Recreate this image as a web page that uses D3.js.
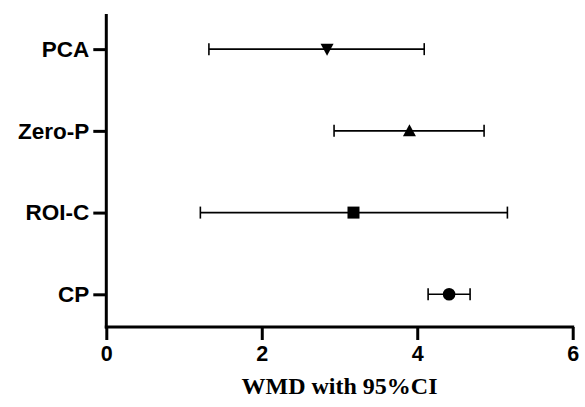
<!DOCTYPE html>
<html><head><meta charset="utf-8">
<script src="https://cdn.jsdelivr.net/npm/d3@7"></script>
<style>body{margin:0;background:#fff}</style>
</head><body>
<script>
const categories = ["CP", "ROI-C", "Zero-P", "PCA"];
const estimates = [4.41, 3.18, 3.90, 2.84];
const lowerCI = [4.14, 1.21, 2.93, 1.32];
const upperCI = [4.68, 5.16, 4.86, 4.09];
const symbols = ["circle", "square", "triangle", "triangleDown"];
const xTicks = [0, 2, 4, 6];
const xTitle = "WMD with 95%CI";

const W = 585, H = 407;
const svg = d3.select("body").append("svg").attr("width", W).attr("height", H);
const x = d3.scaleLinear().domain([0, 6]).range([106.3, 572.7]);
const y = d3.scaleLinear().domain([0.6, 4.43]).range([327, 14]);
const yPos = i => y(i + 1);

const sans = "'Liberation Sans', Arial, sans-serif";

// x axis
const xa = svg.append("g").attr("transform", "translate(0,327)")
  .call(d3.axisBottom(x).tickValues(xTicks).tickFormat(d3.format("d")).tickSizeOuter(0).tickSize(13).tickPadding(6));
xa.select(".domain").attr("stroke-width", 3).attr("d", `M${x(0)-1.5},0H${x(6)+1.5}`);
xa.selectAll(".tick line").attr("stroke-width", 3);
xa.selectAll(".tick text").attr("font-family", sans).attr("font-weight", "bold").attr("font-size", 21.5).attr("fill", "#000");

// y axis
const ya = svg.append("g").attr("transform", `translate(${x(0)},0)`)
  .call(d3.axisLeft(y).tickValues(categories.map((c, i) => i + 1)).tickFormat((d) => categories[d - 1]).tickSizeOuter(0).tickSize(13).tickPadding(4));
ya.select(".domain").attr("stroke-width", 3).attr("d", `M0,14V${327+1.5}`);
ya.selectAll(".tick line").attr("stroke-width", 3);
ya.selectAll(".tick text").attr("font-family", sans).attr("font-weight", "bold").attr("font-size", 22.5).attr("fill", "#000");

// error bars
const g = svg.append("g");
categories.forEach((c, i) => {
  const yy = yPos(i);
  g.append("line").attr("x1", x(lowerCI[i])).attr("x2", x(upperCI[i])).attr("y1", yy).attr("y2", yy)
    .attr("stroke", "#000").attr("stroke-width", 1.6);
  [lowerCI[i], upperCI[i]].forEach(v => {
    g.append("line").attr("x1", x(v)).attr("x2", x(v)).attr("y1", yy - 6).attr("y2", yy + 6)
      .attr("stroke", "#000").attr("stroke-width", 1.6);
  });
  const cx = x(estimates[i]);
  const s = symbols[i];
  if (s === "circle") {
    g.append("circle").attr("cx", cx).attr("cy", yy).attr("r", 6.3).attr("fill", "#000");
  } else if (s === "square") {
    g.append("rect").attr("x", cx - 6).attr("y", yy - 6).attr("width", 12).attr("height", 12).attr("fill", "#000");
  } else if (s === "triangle") {
    g.append("path").attr("d", `M${cx},${yy-6.5}L${cx+6.5},${yy+5.5}L${cx-6.5},${yy+5.5}Z`).attr("fill", "#000");
  } else {
    g.append("path").attr("d", `M${cx},${yy+6.5}L${cx+6.5},${yy-5.5}L${cx-6.5},${yy-5.5}Z`).attr("fill", "#000");
  }
});

// title
svg.append("text").attr("x", (x(0) + x(6)) / 2).attr("y", 393.5).attr("text-anchor", "middle")
  .attr("font-family", "'Liberation Serif', 'Times New Roman', serif").attr("font-weight", "bold")
  .attr("font-size", 24).attr("fill", "#000").text(xTitle);
</script>
</body></html>
